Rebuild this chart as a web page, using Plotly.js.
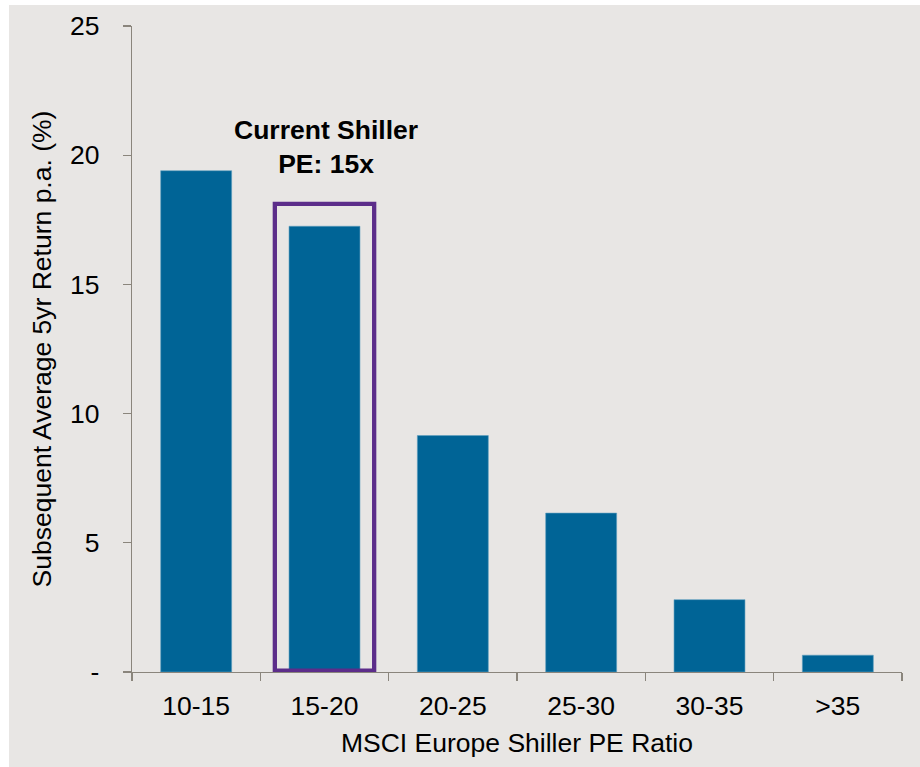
<!DOCTYPE html>
<html>
<head>
<meta charset="utf-8">
<script src="https://cdn.plot.ly/plotly-3.0.1.min.js"></script>
<style>
html,body{margin:0;padding:0;background:#ffffff;}
#chart{position:absolute;left:9px;top:5px;width:911px;height:762px;}
</style>
</head>
<body>
<div id="chart"></div>
<script>
const categories = ["10-15", "15-20", "20-25", "25-30", "30-35", ">35"];
const returns = [19.4, 17.25, 9.15, 6.15, 2.8, 0.65];
const yTickVals = [0, 5, 10, 15, 20, 25];
const yTickText = ["-", "5", "10", "15", "20", "25"];
const highlightLabel = "Current Shiller<br>PE: 15x";

const font = "Liberation Sans, Arial, sans-serif";
const axisColor = "#8a857c";
const fs = 26.5;

const data = [{
  type: "bar",
  x: categories,
  y: returns,
  marker: {color: "#006496", line: {color: "#5f9fbf", width: 0.6}},
  hoverinfo: "x+y"
}];

const layout = {
  width: 911, height: 762,
  margin: {l: 123, r: 18, t: 21, b: 95},
  paper_bgcolor: "#e8e6e4",
  plot_bgcolor: "#e8e6e4",
  bargap: 0.447,
  showlegend: false,
  font: {family: font, color: "#000000", size: fs},
  xaxis: {
    type: "category",
    range: [-0.5, 5.5],
    showline: true, linecolor: axisColor, linewidth: 1.3,
    ticks: "outside", tickson: "boundaries", ticklen: 8, tickcolor: axisColor, tickwidth: 1.3,
    showgrid: false, zeroline: false,
    tickfont: {size: fs, family: font, color: "#000"},
    ticklabelstandoff: 10,
    title: {text: "MSCI Europe Shiller PE Ratio", font: {size: fs, family: font, color: "#000"}, standoff: 13}
  },
  yaxis: {
    range: [0, 25],
    tickvals: yTickVals, ticktext: yTickText,
    showline: true, linecolor: axisColor, linewidth: 1.3,
    ticks: "outside", ticklen: 8, tickcolor: axisColor, tickwidth: 1.3,
    showgrid: false, zeroline: false,
    tickfont: {size: fs, family: font, color: "#000"},
    ticklabelstandoff: 18,
    title: {text: "Subsequent Average 5yr Return p.a. (%)", font: {size: fs, family: font, color: "#000"}, standoff: 10}
  },
  shapes: [{
    type: "rect", xref: "x", yref: "y",
    x0: 0.613, x1: 1.387, y0: 0.05, y1: 18.12,
    line: {color: "#5c2d8a", width: 4.3},
    fillcolor: "rgba(0,0,0,0)"
  }],
  annotations: [{
    xref: "x", yref: "y",
    x: 1.012, y: 20.3,
    xanchor: "center", yanchor: "middle",
    text: "<b>" + highlightLabel + "</b>",
    showarrow: false,
    align: "center",
    font: {size: fs, family: font, color: "#000"}
  }]
};

Plotly.newPlot("chart", data, layout, {displayModeBar: false, staticPlot: true});
</script>
</body>
</html>
